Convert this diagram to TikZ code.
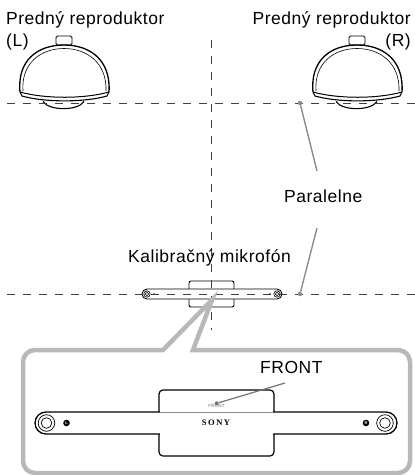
\documentclass[tikz,border=0pt]{standalone}
\usepackage{fontspec}
\setmainfont{Liberation Sans}[LetterSpace=3]
\newfontfamily\logofont{Liberation Serif}[LetterSpace=18]

\tikzstyle{txt} = [inner sep=0, anchor=base west, font=\fontsize{17.5}{21}\selectfont]
\tikzstyle{guide} = [line width=0.9pt, draw=black!75, dash pattern=on 7.5pt off 8.5pt, dash phase=9pt]
\tikzstyle{leader} = [line width=1.4pt, draw=black!45]
\tikzstyle{leaddot} = [circle, fill=black!45, inner sep=0, minimum size=4.5pt]
\tikzstyle{callout} = [line width=4.5pt, draw=black!28]
\tikzstyle{body} = [draw=black, line width=1.1pt, fill=white]
\tikzstyle{micdot} = [circle, fill=black, text=white, inner sep=0, minimum size=6.6pt, font=\fontsize{4}{4}\selectfont\bfseries]

% one front speaker, shifted sideways by #1
\newcommand{\drawspeaker}[1]{%
  \begin{scope}[xshift=#1]
    \draw[body, line width=0.9pt, rounded corners=1.5pt] (56,45) rectangle (72,36);
    \draw[line width=1.3pt] (20,92) .. controls (17,60) and (38,45) .. (64,45) .. controls (90,45) and (111,60) .. (109,92);
    \draw[line width=0.6pt] (23,91) .. controls (21,63) and (41,48.5) .. (64,48.5) .. controls (87,48.5) and (107,63) .. (106,91);
    \draw[line width=1pt] (20,92) .. controls (45,99) and (84,99) .. (109,92);
    \draw[line width=1.1pt] (20,92) -- (22,96) .. controls (45,102.5) and (84,102.5) .. (107,96) -- (109,92);
    \draw[line width=1.1pt] (43,101.5) .. controls (49,111) and (78,111) .. (84,101.5);
  \end{scope}}

\begin{document}
\begin{tikzpicture}[x=1pt, y=-1pt]
\useasboundingbox (0,0) rectangle (415,475);

% Speakers
\node (spkL) [txt] at (6,24) {Predný reproduktor};
\node (spkLb) [txt] at (6,46) {(L)};
\node (spkR) [txt, anchor=base east] at (411,24) {Predný reproduktor};
\node (spkRb) [txt, anchor=base east] at (411,46) {(R)};
\drawspeaker{0pt}
\drawspeaker{293pt}

% Small microphone on the listening line
\draw[body, line width=0.9pt, rounded corners=2pt] (189,281) rectangle (234,307);
\draw[body, line width=0.9pt, rounded corners=5pt] (142,289) rectangle (282,299);
\draw[line width=0.6pt] (147,294) circle (3.2pt) (147,294) circle (1.7pt);
\draw[line width=0.6pt] (277,294) circle (3.2pt) (277,294) circle (1.7pt);
\fill (154,294) circle (1pt) (270,294) circle (1pt);

% Guide lines
\draw[guide] (0,103) -- (415,103);
\draw[guide] (0,294) -- (415,294);
\draw[guide, dash phase=0pt] (211,40) -- (211,330);

% Parallel marks
\node (dotTop) [leaddot] at (300,103) {};
\node (dotBot) [leaddot] at (300,294) {};
\node (par) [txt] at (284,202) {Paralelne};
\coordinate (parA) at (317,171);
\coordinate (parB) at (317,228);
\draw[leader] (dotTop) -- (parA);
\draw[leader] (dotBot) -- (parB);

\node (mic) [txt] at (128,262) {Kalibračný mikrofón};

% Close-up frame
\draw[callout] (163,350) -- (212,300) -- (193,350) {[rounded corners=12pt] -- (410,350) -- (410,473) -- (23,473) -- (23,350)} -- cycle;

% Close-up of the microphone
\draw[body, line width=1.2pt, rounded corners=4pt] (159,390) rectangle (274,456);
\draw[body, line width=1.3pt, rounded corners=11pt] (35,412) rectangle (397,434);
\fill[white] (159.7,411) rectangle (273.3,435);
\draw[line width=0.8pt, black!45] (159.7,412) -- (273.3,412);
\draw[line width=0.7pt] (46.5,423) circle (8.3pt) (46.5,423) circle (5.3pt);
\draw[line width=0.7pt] (385,423) circle (8.3pt) (385,423) circle (5.3pt);
\node (dotL) [micdot] at (66.5,423) {L};
\node (dotR) [micdot] at (366,423) {R};
\node (logo) [inner sep=0] at (216,423) {\logofont\bfseries\fontsize{8.5}{9}\selectfont SONY};
\node (mark) [inner sep=0, anchor=base, text=black!60, font=\fontsize{4.5}{5}\selectfont] at (216.5,407.5) {FRONT};

% FRONT label
\node (front) [txt] at (260,373) {FRONT};
\node (markDot) [leaddot, minimum size=4pt, fill=black!55] at (216.7,403.3) {};
\coordinate (frontTip) at (285,383);
\draw[leader, draw=black!55, line width=1.2pt] (markDot) -- (frontTip);

\end{tikzpicture}
\end{document}
